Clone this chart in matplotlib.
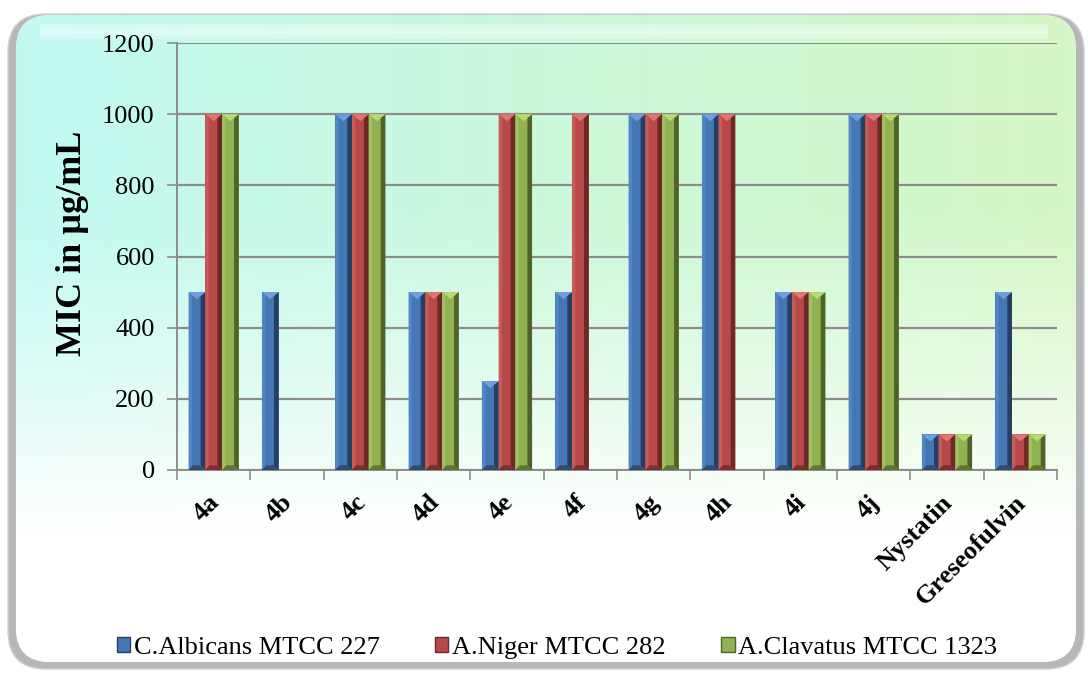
import numpy as np
import matplotlib.pyplot as plt
import matplotlib.transforms as mtransforms
from matplotlib.patches import FancyBboxPatch, Polygon, Patch

plt.rcParams['font.family'] = ['Liberation Serif', 'DejaVu Serif']

categories = ['4a', '4b', '4c', '4d', '4e', '4f', '4g', '4h', '4i', '4j', 'Nystatin', 'Greseofulvin']
series_names = ['C.Albicans MTCC 227', 'A.Niger MTCC 282', 'A.Clavatus MTCC 1323']
c_albicans = [500, 500, 1000, 500, 250, 500, 1000, 1000, 500, 1000, 100, 500]
a_niger = [1000, 0, 1000, 500, 1000, 1000, 1000, 1000, 500, 1000, 100, 100]
a_clavatus = [1000, 0, 1000, 500, 1000, 0, 1000, 0, 500, 1000, 100, 100]
yticks = [0, 200, 400, 600, 800, 1000, 1200]

# main, top facet, right facet, bottom facet, left facet
palettes = [
    ('#4677b5', '#6f9fdc', '#243f63', '#2c4b75', '#5286c6'),
    ('#b8494a', '#de7674', '#6e2826', '#7a2f2d', '#c85a57'),
    ('#92b251', '#b8d874', '#4f6328', '#5e7530', '#a1c160'),
]

W, H = 1088, 675
fig = plt.figure(figsize=(W / 100, H / 100), dpi=100)
fig.patch.set_facecolor('white')

# background panel with gradient
bg = fig.add_axes([0, 0, 1, 1], zorder=-10)
bg.set_xlim(0, W)
bg.set_ylim(H, 0)
bg.axis('off')

outer = FancyBboxPatch((8, 14), W - 12, H - 20, boxstyle='round,pad=0,rounding_size=38',
                       fc='#b4b8b8', ec='#d0d0d0', lw=1)
bg.add_patch(outer)
frame = FancyBboxPatch((16, 15), W - 28, H - 28, boxstyle='round,pad=0,rounding_size=34',
                       fc='white', ec='none')
bg.add_patch(frame)

ny, nx = 200, 300
gx = np.linspace(0, 1, nx)[None, :, None]
gy = np.linspace(0, 1, ny)[:, None, None]
left_c = np.array([0.76, 0.98, 0.95])
right_c = np.array([0.84, 0.97, 0.78])
top = left_c * (1 - gx) + right_c * gx
fade = np.clip((gy - 0.3) / 0.5, 0, 1) ** 1.2
img = top * (1 - fade) + np.ones(3) * fade
img = np.clip(img, 0, 1)
im = bg.imshow(img, extent=(16, W - 12, H - 13, 15), aspect='auto', zorder=1)
im.set_clip_path(frame)
# glassy highlight along the top
for k, a in enumerate([0.25, 0.35, 0.5, 0.35, 0.25]):
    band = bg.fill_between([40, W - 40], 24 + 3 * k, 27 + 3 * k, color='white', alpha=a, zorder=2, lw=0)
    band.set_clip_path(frame)

ax = fig.add_axes([177 / W, 1 - 470 / H, 880 / W, 427 / H])
ax.set_facecolor('none')
ax.set_xlim(0, len(categories))
ax.set_ylim(0, 1200)

x = np.arange(len(categories)) + 0.5
bw = 0.228
data = [c_albicans, a_niger, a_clavatus]

p0 = ax.transData.transform((0, 0))
p1 = ax.transData.transform((1, 1))
sx, sy = p1[0] - p0[0], p1[1] - p0[1]
k_y = sx / sy  # data-y per data-x at equal pixel size

for i, vals in enumerate(data):
    main, tc, rc, bc, lc = palettes[i]
    bars = ax.bar(x + (i - 1) * bw, vals, bw, color=main, zorder=3, lw=0)
    for b in bars:
        h = b.get_height()
        if h <= 0:
            continue
        x0 = b.get_x()
        w = b.get_width()
        x1 = x0 + w
        xm = x0 + 0.5 * w
        e = 0.28 * w
        dtop = min(0.42 * w * k_y, h / 2)
        eb = min(e * k_y, h / 2)
        # right dark face
        ax.add_patch(Polygon([(x1, 0), (x1, h), (x1 - e, h - e * k_y * 0.7), (x1 - e, eb)],
                             fc=rc, ec='none', zorder=4))
        # left lighter face
        ax.add_patch(Polygon([(x0, 0), (x0, h), (x0 + 0.2 * w, h - 0.2 * w * k_y), (x0 + 0.2 * w, eb)],
                             fc=lc, ec='none', zorder=4))
        # bottom face
        ax.add_patch(Polygon([(x0, 0), (x1, 0), (x1 - e, eb), (x0 + e, eb)],
                             fc=bc, ec='none', zorder=5))
        # top facet
        ax.add_patch(Polygon([(x0, h), (x1, h), (xm, h - dtop)], fc=tc, ec='none', zorder=5))

ax.set_yticks(yticks)
ax.set_yticklabels([str(t) for t in yticks], fontsize=19)
ax.yaxis.grid(True, color='#8c8c8c', lw=1.6, zorder=1)
ax.set_axisbelow(True)
ax.tick_params(axis='y', length=7, color='#8c8c8c', width=1.2, pad=9)

ax.set_xticks(np.arange(len(categories) + 1), minor=False)
ax.set_xticklabels([])
ax.set_xticks(x, minor=True)
ax.set_xticklabels(categories, minor=True, rotation=45, ha='right', rotation_mode='anchor',
                   fontsize=19, fontweight='bold')
ax.tick_params(axis='x', which='major', length=7, color='#8c8c8c', width=1.2)
ax.tick_params(axis='x', which='minor', length=0, pad=15)
shift = mtransforms.ScaledTranslation(-6 / 100, 0, fig.dpi_scale_trans)
for lbl in ax.get_xticklabels(minor=True):
    lbl.set_transform(lbl.get_transform() + shift)

for s in ['top', 'right']:
    ax.spines[s].set_visible(False)
for s in ['left', 'bottom']:
    ax.spines[s].set_color('#8c8c8c')
    ax.spines[s].set_linewidth(1.4)

ax.set_ylabel('MIC in µg/mL', fontsize=26, fontweight='bold')
ax.yaxis.set_label_coords(-0.1, 0.53)

handles = [Patch(facecolor=palettes[i][0], edgecolor=palettes[i][2], lw=1) for i in range(3)]
fig.legend(handles, series_names, loc='center', bbox_to_anchor=(557 / W, 1 - 648 / H), ncol=3,
           frameon=False, fontsize=19, handlelength=0.5, handleheight=0.5,
           handletextpad=0.15, columnspacing=2.1)

fig.savefig('out.png', dpi=100)
